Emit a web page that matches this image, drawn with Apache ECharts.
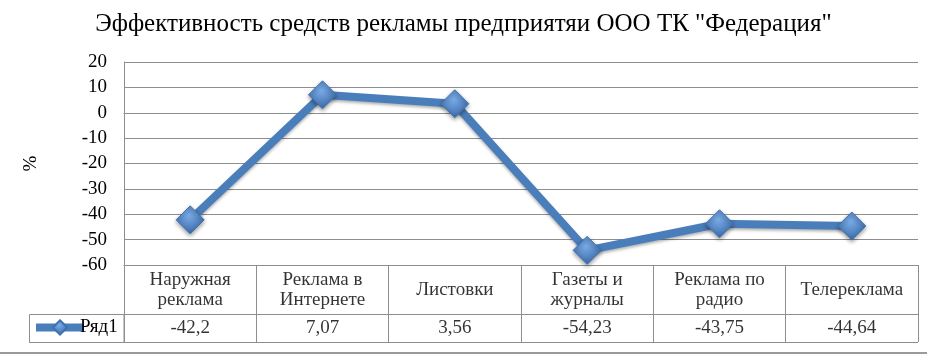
<!DOCTYPE html>
<html><head><meta charset="utf-8">
<script src="https://cdn.jsdelivr.net/npm/echarts@6/dist/echarts.min.js"></script>
<style>html,body{margin:0;padding:0;background:#fff}#c{width:927px;height:361px}</style>
</head><body><div id="c"></div>
<script>
const categories = ['Наружная\nреклама', 'Реклама в\nИнтернете', 'Листовки', 'Газеты и\nжурналы', 'Реклама по\nрадио', 'Телереклама'];
const values = [-42.2, 7.07, 3.56, -54.23, -43.75, -44.64];
const seriesName = 'Ряд1';
const yMin = -60, yMax = 20, yStep = 10;

const FONT = 'Liberation Serif';
const GRID_C = '#8e8e8e';
const LINE_C = '#4a7ebb';
const FS = 19;
const fmt = v => String(v).replace('.', ',');

const chart = echarts.init(document.getElementById('c'));
chart.setOption({
  animation: false,
  textStyle: { fontFamily: FONT },
  title: {
    text: 'Эффективность средств рекламы предприятяи ООО ТК "Федерация"',
    left: 'center', top: 7,
    textStyle: { fontFamily: FONT, fontSize: 25, fontWeight: 'normal', color: '#000' }
  },
  legend: {
    left: 32, top: 318, itemWidth: 48, itemHeight: 18, padding: 0, itemGap: 0,
    lineStyle: { width: 8 },
    textStyle: { fontFamily: FONT, fontSize: FS, color: '#000', padding: [0, 0, 0, -9] },
    data: [seriesName]
  },
  grid: [
    { left: 124, right: 9, top: 62, height: 203 },
    { left: 124, right: 9, top: 265, height: 77 }
  ],
  xAxis: [
    { gridIndex: 0, type: 'category', data: categories, boundaryGap: true,
      axisLine: { show: true, lineStyle: { color: GRID_C, width: 1 } },
      axisTick: { show: false }, axisLabel: { show: false }, splitLine: { show: false } },
    { gridIndex: 1, type: 'category', data: categories, boundaryGap: true,
      axisLine: { show: true, lineStyle: { color: GRID_C } },
      axisTick: { show: false }, axisLabel: { show: false },
      splitLine: { show: true, lineStyle: { color: GRID_C } } }
  ],
  yAxis: [
    { gridIndex: 0, type: 'value', min: yMin, max: yMax, interval: yStep,
      name: '%', nameLocation: 'middle', nameGap: 83, nameRotate: 90,
      nameTextStyle: { fontFamily: FONT, fontSize: FS, color: '#000' },
      axisLine: { show: true, lineStyle: { color: GRID_C } },
      axisTick: { show: false },
      axisLabel: { fontFamily: FONT, fontSize: FS, color: '#000', margin: 17 },
      splitLine: { show: true, lineStyle: { color: GRID_C, width: 1 } } },
    { gridIndex: 1, type: 'value', min: 0, max: 77, interval: 49, inverse: true,
      axisLine: { show: true, lineStyle: { color: GRID_C } },
      axisTick: { show: false }, axisLabel: { show: false },
      splitLine: { show: true, lineStyle: { color: GRID_C } } }
  ],
  graphic: [
    { type: 'rect', shape: { x: 29.5, y: 314.5, width: 94.5, height: 28 },
      style: { fill: 'none', stroke: GRID_C, lineWidth: 1 }, silent: true },
    { type: 'line', shape: { x1: 0, y1: 353, x2: 927, y2: 353 },
      style: { stroke: '#9a9a9a', lineWidth: 2 }, silent: true }
  ],
  series: [
    { name: seriesName, type: 'line', xAxisIndex: 0, yAxisIndex: 0, data: values,
      symbol: 'diamond', symbolSize: 28,
      lineStyle: { color: LINE_C, width: 8, shadowBlur: 3, shadowColor: 'rgba(0,0,0,0.3)', shadowOffsetY: 2 },
      itemStyle: {
        color: new echarts.graphic.RadialGradient(0.45, 0.35, 0.65, [
          { offset: 0, color: '#7aabe6' }, { offset: 1, color: '#3a6aa8' }]),
        borderColor: '#3f72b2', borderWidth: 1,
        shadowBlur: 4, shadowColor: 'rgba(0,0,0,0.4)', shadowOffsetY: 2
      },
      z: 3 },
    { type: 'scatter', xAxisIndex: 1, yAxisIndex: 1, silent: true,
      symbolSize: 1, itemStyle: { color: 'transparent' },
      label: { show: true, position: 'inside', fontFamily: FONT, fontSize: FS, color: '#000', lineHeight: 20,
        formatter: p => p.data[2] },
      data: categories.map((c, i) => [i, 25.5, c]) },
    { type: 'scatter', xAxisIndex: 1, yAxisIndex: 1, silent: true,
      symbolSize: 1, itemStyle: { color: 'transparent' },
      label: { show: true, position: 'inside', fontFamily: FONT, fontSize: FS, color: '#000',
        formatter: p => p.data[2] },
      data: values.map((v, i) => [i, 63, fmt(v)]) }
  ]
});
</script></body></html>
